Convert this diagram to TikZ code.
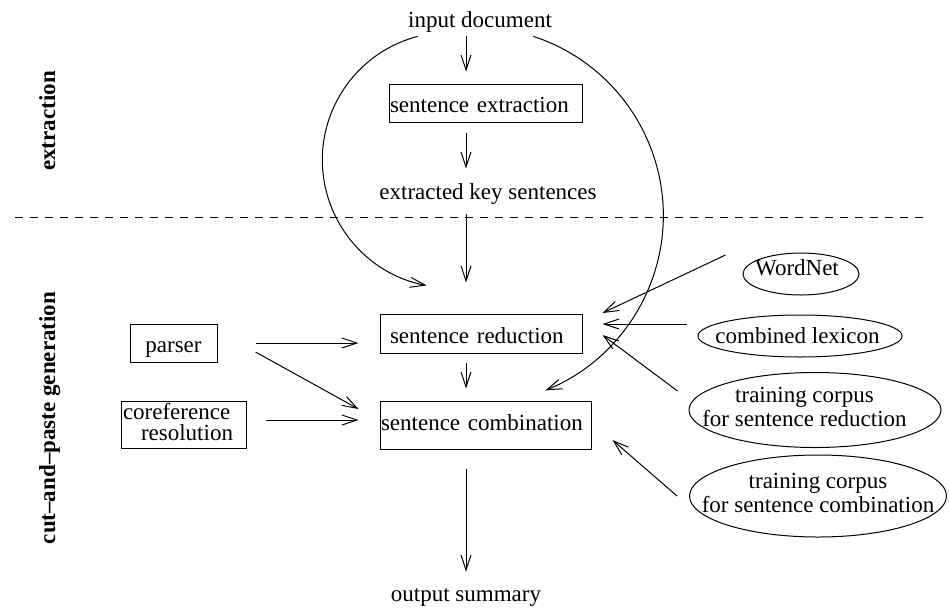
\documentclass[tikz,border=0pt]{standalone}
\usepackage{fontspec}
\setmainfont{Liberation Serif}
\usetikzlibrary{arrows.meta,calc,shapes.geometric}
\begin{document}
\begin{tikzpicture}[x=1pt,y=-1pt,line width=1pt,
  every node/.style={font=\fontsize{23}{24}\selectfont},
  txt/.style={inner sep=0pt, anchor=base},
  stepbox/.style={draw, rectangle, inner ysep=0pt},
  ell/.style={draw, ellipse, inner sep=0pt},
  arr/.style={-{Straight Barb[length=15pt,width=10pt]}},
  lbl/.style={font=\fontsize{23}{24}\selectfont\bfseries, rotate=90, anchor=base, inner sep=0pt}]
\useasboundingbox (0,0) rectangle (949,608);

% column of the main pipeline
\coordinate (col) at (466,0);

% phase labels and separator
\node[lbl] (extr) at (55,121) {extraction};
\node[lbl] (cutpaste) at (55,418) {cut--and--paste generation};
\draw[line width=0.9pt, dash pattern=on 8pt off 7pt] (15,217.5) -- (928,217.5);

% main pipeline
\node[txt] (input) at (480,27) {input document};
\node[stepbox, minimum width=193pt, minimum height=38pt, inner xsep=1pt,
      text width=191pt, align=left, text height=19pt, text depth=0pt]
      (extraction) at (485.5,103) {sentence extraction};
\node[txt] (extracted) at (488,199) {extracted key sentences};
\node[stepbox, minimum width=202pt, minimum height=39pt, inner xsep=10pt,
      text width=182pt, align=left, text height=19.6pt, text depth=0pt]
      (reduction) at (481,333.5) {sentence reduction};
\node[stepbox, minimum width=211pt, minimum height=48pt, inner xsep=1pt,
      text width=209pt, align=left, text height=11.5pt, text depth=0pt]
      (combination) at (485.5,425) {sentence combination};
\node[txt] (output) at (466,601) {output summary};

% tools on the left
\node[stepbox, minimum width=87pt, minimum height=38pt, text height=19.4pt, text depth=0pt]
      (parser) at (173.5,343) {parser};
\node[stepbox, minimum width=125pt, minimum height=47pt, inner xsep=2pt,
      text width=121pt, align=left]
      (coref) at (183.5,424.5)
      {\fontsize{23}{18}\selectfont\begin{tabular}{@{}l@{}}coreference\\\hspace*{18pt}resolution\end{tabular}};

% resources on the right
\node[ell, minimum width=116pt, minimum height=42pt, text height=3.4pt, text depth=0pt]
      (wordnet) at (801,274) {\makebox[0pt]{\kern-8pt WordNet}};
\node[ell, minimum width=204pt, minimum height=42pt, text height=14.6pt, text depth=0pt]
      (lexicon) at (800,336) {\makebox[0pt]{\kern-5pt combined lexicon}};
\node[ell, minimum width=252pt, minimum height=75pt]
      (trainred) at (815,410)
      {\makebox[0pt]{\kern-21pt\begin{tabular}{@{}c@{}}training corpus\\for sentence reduction\end{tabular}}};
\node[ell, minimum width=257pt, minimum height=82pt]
      (traincomb) at (818,496)
      {\makebox[0pt]{\begin{tabular}{@{}c@{}}training corpus\\for sentence combination\end{tabular}}};

% pipeline arrows
\draw[arr, shorten <=4pt, shorten >=12pt] (input.south -| col) -- (extraction.north -| col);
\draw[arr, shorten <=10pt, shorten >=14pt] (extraction.south -| col) -- (extracted.north -| col);
\draw[arr, shorten <=10pt, shorten >=31pt] (extracted.south -| col) -- (reduction.north -| col);
\draw[arr, shorten <=9pt, shorten >=12pt] (reduction.south -| col) -- (combination.north -| col);
\draw[arr, shorten <=19pt, shorten >=16pt] (combination.south -| col) -- (output.north -| col);

% the input document also feeds both generation steps directly
\draw[arr] ($(input.south west)+(10,4)$) arc[start angle=255.3, end angle=100.6, radius=127.7];
\draw[arr] ($(input.south east)+(-19,4)$) arc[start angle=-71.9, end angle=68.0, radius=188.5];

% left-hand inputs
\draw[arr, shorten <=38pt, shorten >=21pt] (parser.east) -- (parser.east -| reduction.west);
\draw[arr] ($(parser.east)+(38,9)$) -- ($(combination.west)+(-21,-16)$);
\draw[arr] ($(coref.east)+(19,-4.5)$) -- ($(combination.west)+(-21,-5)$);

% right-hand resources
\draw[arr] ($(wordnet.west)+(-17,-19)$) -- ($(reduction.east)+(20,-20.5)$);
\draw[arr] ($(lexicon.west)+(-11,-12)$) -- ($(reduction.east)+(20,-9.5)$);
\draw[arr] ($(trainred.west)+(-11,-19)$) -- ($(reduction.east)+(20,1.5)$);
\draw[arr] ($(traincomb.west)+(-12,0)$) -- ($(combination.east)+(21,15)$);
\end{tikzpicture}
\end{document}
